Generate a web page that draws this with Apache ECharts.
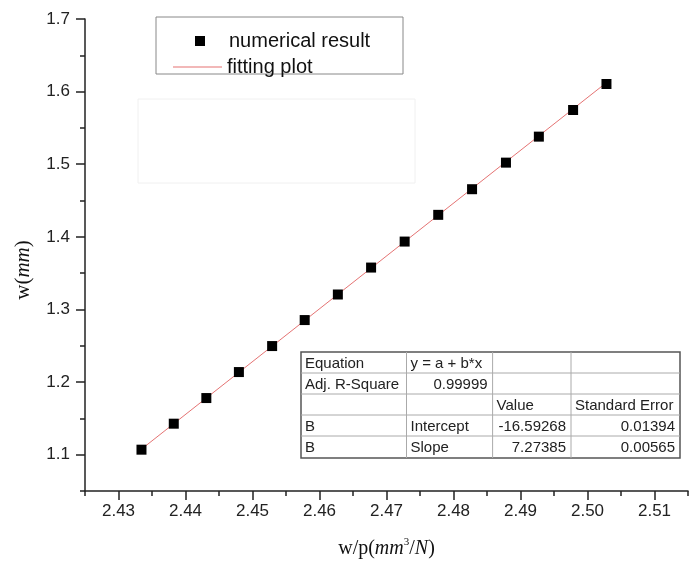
<!DOCTYPE html>
<html>
<head>
    <meta charset="utf-8">
    <script src="https://cdn.jsdelivr.net/npm/echarts@6/dist/echarts.min.js"></script>
</head>
<body style="margin:0;background:#fff;">
    <div id="main" style="width: 691px;height:567px;"></div>
    <script type="text/javascript">
        // data
        var xValues = [2.43343, 2.43825, 2.44311, 2.44797, 2.45293, 2.45779, 2.46274, 2.46770,
                       2.47271, 2.47772, 2.48277, 2.48783, 2.49274, 2.49785, 2.50283];
        var yValues = [1.1069, 1.1427, 1.1780, 1.2138, 1.2496, 1.2854, 1.3206, 1.3577,
                       1.3935, 1.4303, 1.4656, 1.5022, 1.5380, 1.5747, 1.6105];
        // fitted line end points
        var fitX = [2.4334, 2.5028];
        var fitY = [1.1074, 1.6122];
        var xMajorTicks = [2.43, 2.44, 2.45, 2.46, 2.47, 2.48, 2.49, 2.50, 2.51];
        var yMajorTicks = [1.1, 1.2, 1.3, 1.4, 1.5, 1.6, 1.7];
        var tableRows = [
            ['Equation', 'y = a + b*x', '', ''],
            ['Adj. R-Square', '0.99999', '', ''],
            ['', '', 'Value', 'Standard Error'],
            ['B', 'Intercept', '-16.59268', '0.01394'],
            ['B', 'Slope', '7.27385', '0.00565']
        ];

        var myChart = echarts.init(document.getElementById('main'));

        var points = xValues.map(function (x, i) { return [x, yValues[i]]; });
        var fitLine = fitX.map(function (x, i) { return [x, fitY[i]]; });

        var sans = 'Liberation Sans, Arial, sans-serif';
        var serif = 'Liberation Serif, Times New Roman, serif';
        var fitColor = '#e57373';

        // table built as graphic elements
        var colX = [301, 406.5, 492.6, 571, 680];
        var rowY = [352, 373, 394, 415, 436, 458];
        var tableEls = [];
        tableEls.push({
            type: 'rect',
            shape: { x: colX[0], y: rowY[0], width: colX[4] - colX[0], height: rowY[5] - rowY[0] },
            style: { fill: '#fff', stroke: '#555', lineWidth: 1.5 },
            z: 10
        });
        for (var c = 1; c < 4; c++) {
            tableEls.push({
                type: 'line', shape: { x1: colX[c], y1: rowY[0], x2: colX[c], y2: rowY[5] },
                style: { stroke: '#aaa', lineWidth: 1 }, z: 11
            });
        }
        for (var r = 1; r < 5; r++) {
            tableEls.push({
                type: 'line', shape: { x1: colX[0], y1: rowY[r], x2: colX[4], y2: rowY[r] },
                style: { stroke: '#aaa', lineWidth: 1 }, z: 11
            });
        }
        tableRows.forEach(function (row, ri) {
            row.forEach(function (txt, ci) {
                if (!txt) return;
                var isNum = /^-?[0-9.]+$/.test(txt);
                tableEls.push({
                    type: 'text',
                    x: isNum ? colX[ci + 1] - 5 : colX[ci] + 4,
                    y: (rowY[ri] + rowY[ri + 1]) / 2 + 1,
                    style: {
                        text: txt, fill: '#222', font: '15px ' + sans,
                        textAlign: isNum ? 'right' : 'left', textVerticalAlign: 'middle'
                    },
                    z: 12
                });
            });
        });

        var option = {
            animation: false,
            backgroundColor: '#fff',
            grid: { left: 85, top: 19, width: 611, bottom: 76 },
            legend: [
                {
                    data: ['numerical result'],
                    left: 195, top: 31, padding: 0,
                    itemWidth: 10, itemHeight: 10,
                    textStyle: { fontSize: 20, color: '#111', fontFamily: sans, padding: [0, 0, 0, 19] }
                },
                {
                    data: [{ name: 'fitting plot', icon: 'path://M0,0L49,0L49,1L0,1Z' }],
                    left: 173, top: 57, padding: 0,
                    itemWidth: 49, itemHeight: 1,
                    itemStyle: { color: fitColor },
                    textStyle: { fontSize: 20, color: '#111', fontFamily: sans }
                }
            ],
            graphic: [
                {
                    type: 'rect',
                    shape: { x: 156, y: 17, width: 247, height: 57 },
                    style: { fill: 'none', stroke: '#888', lineWidth: 1 }
                },
                {
                    type: 'rect',
                    shape: { x: 138, y: 99, width: 277, height: 84 },
                    style: { fill: 'none', stroke: '#f0f0f0', lineWidth: 1 }
                },
                { type: 'group', children: tableEls }
            ],
            xAxis: [
                {
                    type: 'value', min: 2.425, max: 2.515, interval: 0.005,
                    splitLine: { show: false },
                    axisLine: { lineStyle: { color: '#222', width: 1.5 } },
                    axisTick: { length: 5, lineStyle: { color: '#222', width: 1.5 } },
                    axisLabel: {
                        margin: 12, fontSize: 17, color: '#222', fontFamily: sans,
                        formatter: function (v) {
                            return Math.round(v * 1000) % 10 === 0 ? v.toFixed(2) : '';
                        }
                    },
                    name: '{n|w/p(}{i|mm}{s|3}{n|/}{i|N}{n|)}',
                    nameLocation: 'middle', nameGap: 46,
                    nameTextStyle: {
                        fontFamily: serif, fontSize: 20, color: '#111',
                        rich: {
                            n: { fontFamily: serif, fontSize: 20, color: '#111' },
                            i: { fontFamily: serif, fontSize: 20, color: '#111', fontStyle: 'italic' },
                            s: { fontFamily: serif, fontSize: 11, color: '#111', padding: [0, 0, 12, 0] }
                        }
                    }
                },
                {
                    type: 'value', min: 2.425, max: 2.515, position: 'bottom',
                    splitLine: { show: false },
                    axisLine: { show: false },
                    axisLabel: { show: false },
                    axisTick: { customValues: xMajorTicks, length: 9, lineStyle: { color: '#222', width: 1.5 } }
                }
            ],
            yAxis: [
                {
                    type: 'value', min: 1.05, max: 1.7, interval: 0.05,
                    splitLine: { show: false },
                    axisLine: { lineStyle: { color: '#222', width: 1.5 } },
                    axisTick: { length: 5, lineStyle: { color: '#222', width: 1.5 } },
                    axisLabel: {
                        margin: 15, fontSize: 17, color: '#222', fontFamily: sans,
                        formatter: function (v) {
                            return Math.round(v * 100) % 10 === 0 ? v.toFixed(1) : '';
                        }
                    },
                    name: '{n|w(}{i|mm}{n|)}',
                    nameLocation: 'middle', nameGap: 51,
                    nameTextStyle: {
                        fontFamily: serif, fontSize: 21, color: '#111',
                        padding: [0, 30, 0, 0],
                        rich: {
                            n: { fontFamily: serif, fontSize: 21, color: '#111' },
                            i: { fontFamily: serif, fontSize: 21, color: '#111', fontStyle: 'italic' }
                        }
                    }
                },
                {
                    type: 'value', min: 1.05, max: 1.7, position: 'left',
                    splitLine: { show: false },
                    axisLine: { show: false },
                    axisLabel: { show: false },
                    axisTick: { customValues: yMajorTicks, length: 9, lineStyle: { color: '#222', width: 1.5 } }
                }
            ],
            series: [
                {
                    name: 'fitting plot',
                    type: 'line',
                    data: fitLine,
                    symbol: 'none',
                    lineStyle: { color: fitColor, width: 1 },
                    itemStyle: { color: fitColor },
                    z: 2
                },
                {
                    name: 'numerical result',
                    type: 'scatter',
                    data: points,
                    symbol: 'rect',
                    symbolSize: 10,
                    itemStyle: { color: '#000', opacity: 1 },
                    z: 3
                }
            ]
        };

        myChart.setOption(option);
    </script>
</body>
</html>
